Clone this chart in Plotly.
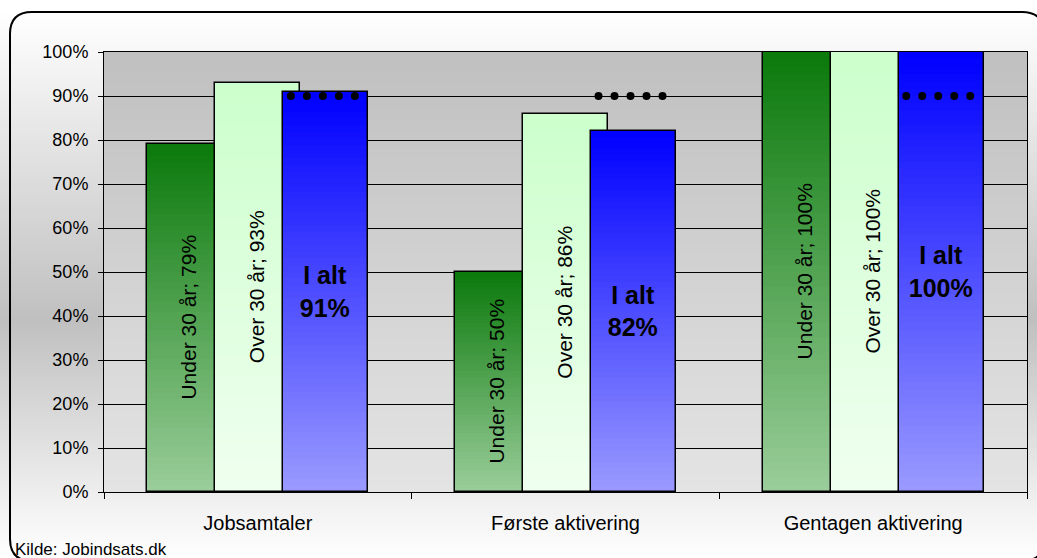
import plotly.graph_objects as go
import zlib, struct, base64

# ---------------- data ----------------
categories = ["Jobsamtaler", "Første aktivering", "Gentagen aktivering"]
under30 = [79, 50, 100]
over30 = [93, 86, 100]
ialt = [91, 82, 100]
target = [90, 90, 90]
under30_text = [f"Under 30 år; {v}%" for v in under30]
over30_text = [f"Over 30 år; {v}%" for v in over30]
ialt_text = [f"I alt<br>{v}%" for v in ialt]
ytick_vals = list(range(0, 101, 10))
ytick_text = [f"{v}%" for v in ytick_vals]
source_text = "Kilde: Jobindsats.dk"

# ---------------- geometry / style ----------------
W, H = 1037, 558
L, R, T, B = 104, 10, 52, 66
PW, PH = W - L - R, H - T - B
CAT_PX = PW / 3.0
bar_w = 85 / CAT_PX
step = 68 / CAT_PX
dot_start = -35 / CAT_PX
dot_step = 16 / CAT_PX
FONT = "Liberation Sans, Arial, sans-serif"


def px2x(px):
    return (px - L) / PW


def py2y(py):
    return (H - B - py) / PH


def lerp(c0, c1, t):
    return tuple(round(a + (b - a) * t) for a, b in zip(c0, c1))


def grad_png(stops, n=256):
    rows = b""
    for i in range(n):
        t = i / (n - 1)
        for (t0, c0), (t1, c1) in zip(stops[:-1], stops[1:]):
            if t0 <= t <= t1:
                c = lerp(c0, c1, (t - t0) / (t1 - t0) if t1 > t0 else 0)
                break
        rows += b"\x00" + bytes(c)

    def chunk(tag, data):
        return (struct.pack(">I", len(data)) + tag + data +
                struct.pack(">I", zlib.crc32(tag + data) & 0xffffffff))

    ihdr = struct.pack(">IIBBBBB", 1, n, 8, 2, 0, 0, 0)
    png = (b"\x89PNG\r\n\x1a\n" + chunk(b"IHDR", ihdr) +
           chunk(b"IDAT", zlib.compress(rows)) + chunk(b"IEND", b""))
    return "data:image/png;base64," + base64.b64encode(png).decode()


def rgb(c):
    return "rgb(%d,%d,%d)" % c


fig = go.Figure()
xs = list(range(len(categories)))
NSEG = 60


def add_series(vals, texts, shift, top_col, bot_col, tfont, tangle):
    off = shift - bar_w / 2
    sx, sy, sc = [], [], []
    for k in range(NSEG, 0, -1):
        f = k / NSEG
        col = rgb(lerp(bot_col, top_col, f))
        for i, v in enumerate(vals):
            sx.append(xs[i])
            sy.append(v * f)
            sc.append(col)
    fig.add_trace(go.Bar(x=sx, y=sy, base=0, width=bar_w, offset=off,
                         marker=dict(color=sc, line=dict(width=0)),
                         hoverinfo="skip", showlegend=False))
    fig.add_trace(go.Bar(x=xs, y=vals, width=bar_w, offset=off,
                         marker=dict(color="rgba(0,0,0,0)",
                                     line=dict(color="black", width=1.5)),
                         text=texts, textposition="inside",
                         insidetextanchor="middle", textangle=tangle,
                         constraintext="none", textfont=tfont,
                         showlegend=False, hoverinfo="skip"))


add_series(under30, under30_text, -step, (12, 122, 12), (156, 206, 156),
           dict(family=FONT, size=21, color="black"), -90)
add_series(over30, over30_text, 0, (204, 255, 204), (240, 255, 240),
           dict(family=FONT, size=21, color="black"), -90)
add_series(ialt, ialt_text, step, (0, 0, 255), (156, 156, 255),
           dict(family=FONT, size=25, color="black", weight="bold"), 0)

dx, dy = [], []
for i, v in enumerate(target):
    for j in range(5):
        dx.append(xs[i] + step + dot_start + j * dot_step)
        dy.append(v)
fig.add_trace(go.Scatter(x=dx, y=dy, xaxis="x2", yaxis="y", mode="markers",
                         marker=dict(size=8, color="black"),
                         hoverinfo="skip", showlegend=False))

page_bg = grad_png([(0.0, (255, 255, 255)), (12 / H, (255, 255, 255)),
                    (320 / H, (192, 192, 192)), (1.0, (255, 255, 255))])
plot_bg = grad_png([(0.0, (192, 192, 192)), (1.0, (228, 228, 228))])

# rounded border
bx0, by0, bx1, by1, r = 10, 12, 1044, 561, 22
path = (
    f"M {px2x(bx0 + r)},{py2y(by0)} "
    f"L {px2x(bx1 - r)},{py2y(by0)} "
    f"Q {px2x(bx1)},{py2y(by0)} {px2x(bx1)},{py2y(by0 + r)} "
    f"L {px2x(bx1)},{py2y(by1 - r)} "
    f"Q {px2x(bx1)},{py2y(by1)} {px2x(bx1 - r)},{py2y(by1)} "
    f"L {px2x(bx0 + r)},{py2y(by1)} "
    f"Q {px2x(bx0)},{py2y(by1)} {px2x(bx0)},{py2y(by1 - r)} "
    f"L {px2x(bx0)},{py2y(by0 + r)} "
    f"Q {px2x(bx0)},{py2y(by0)} {px2x(bx0 + r)},{py2y(by0)} Z"
)

fig.update_layout(
    width=W, height=H, autosize=False,
    margin=dict(l=L, r=R, t=T, b=B, pad=0),
    paper_bgcolor="white", plot_bgcolor="#c8c8c8",
    barmode="overlay", bargap=0,
    font=dict(family=FONT, size=18, color="black"),
    xaxis=dict(range=[-0.5, 2.5], tickvals=xs, ticktext=categories,
               ticks="", showgrid=False, zeroline=False,
               showline=True, linecolor="black", linewidth=1, mirror=True,
               tickfont=dict(size=20), ticklabelstandoff=13),
    xaxis2=dict(range=[-0.5, 2.5], overlaying="x", anchor="y", side="bottom",
                tickvals=[-0.5, 0.5, 1.5, 2.5], ticks="outside", ticklen=6,
                tickcolor="black", showticklabels=False, showgrid=False,
                zeroline=False, showline=False),
    yaxis=dict(range=[0, 100], tickvals=ytick_vals, ticktext=ytick_text,
               showgrid=True, gridcolor="black", gridwidth=1, zeroline=False,
               showline=True, linecolor="black", linewidth=1, mirror=True,
               ticks="outside", ticklen=5, tickcolor="black",
               tickfont=dict(size=18), ticklabelstandoff=6),
    images=[
        dict(source=page_bg, xref="paper", yref="paper",
             x=px2x(0), y=py2y(0), sizex=W / PW, sizey=H / PH,
             xanchor="left", yanchor="top", sizing="stretch", layer="below"),
        dict(source=plot_bg, xref="paper", yref="paper",
             x=0, y=1, sizex=1, sizey=1,
             xanchor="left", yanchor="top", sizing="stretch", layer="below"),
    ],
    shapes=[dict(type="path", path=path, xref="paper", yref="paper",
                 line=dict(color="black", width=2), layer="above")],
    annotations=[dict(text=source_text, xref="paper", yref="paper",
                      x=px2x(13), y=py2y(549), xanchor="left",
                      yanchor="middle", showarrow=False,
                      font=dict(size=17, family=FONT))],
)

fig.write_html("out.html", config={"displayModeBar": False},
               post_script="document.body.style.margin='0';document.body.style.overflow='hidden';")
